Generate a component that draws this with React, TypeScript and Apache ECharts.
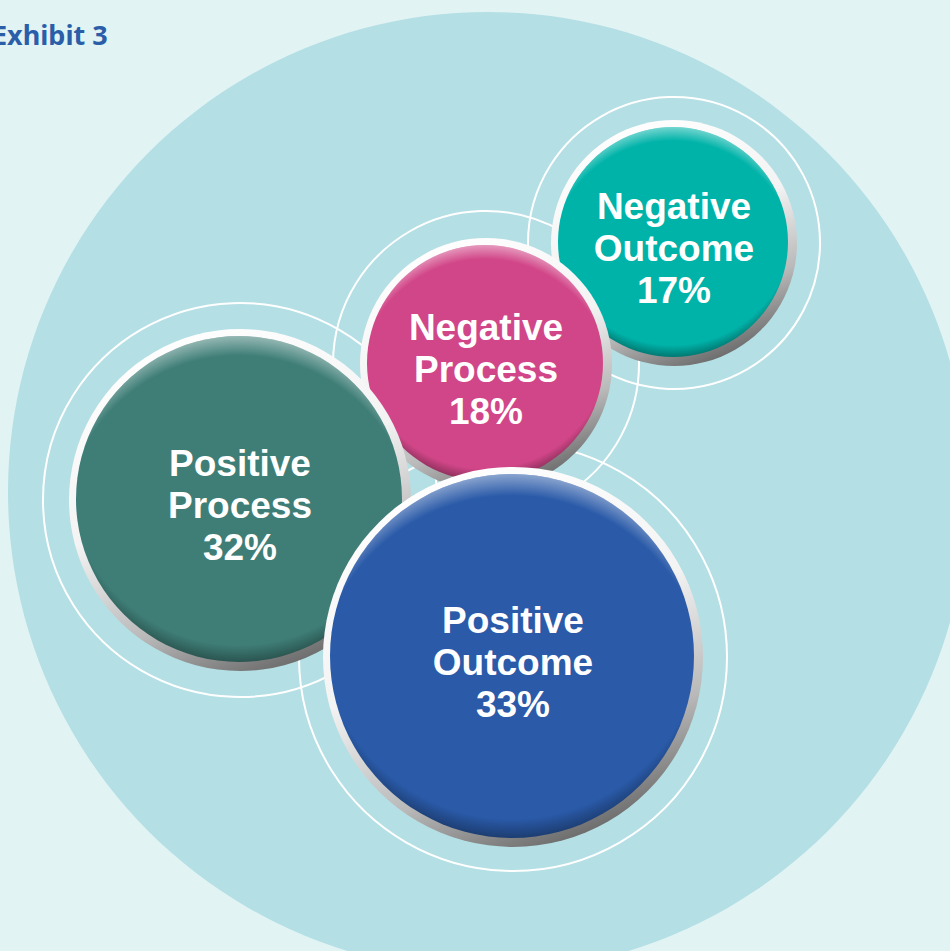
import React, { useEffect, useRef } from "react";
import * as echarts from "echarts";

// ---- data ----
const categories = ["Negative Outcome", "Negative Process", "Positive Process", "Positive Outcome"];
const shares = [17, 18, 32, 33];
const titleText = "Exhibit 3";

// ---- layout (bubble positions / sizes in the hidden axis units) ----
const bubbleX = [674, 486, 240, 513];
const bubbleY = [243, 364, 500, 657];
const bubbleR = [123, 126, 171, 190];
const ringR = [146, 153, 197, 214];
const bubbleColors = ["#00b3a9", "#d14688", "#3f7e77", "#2a5aa8"];

function darken(hex: string, k: number) {
  const n = parseInt(hex.slice(1), 16);
  const r = Math.round(((n >> 16) & 255) * k);
  const g = Math.round(((n >> 8) & 255) * k);
  const b = Math.round((n & 255) * k);
  return `rgb(${r},${g},${b})`;
}

export default function App() {
  const ref = useRef<HTMLDivElement>(null);

  useEffect(() => {
    if (!ref.current) return;
    const chart = echarts.init(ref.current, null, { renderer: "svg" });
    const data = categories.map((c, i) => [bubbleX[i], bubbleY[i], bubbleR[i], ringR[i], shares[i], i]);

    const renderRing = (params: any, api: any) => {
      const c = api.coord([api.value(0), api.value(1)]);
      const r = api.size([api.value(3), 0])[0];
      return {
        type: "circle",
        shape: { cx: c[0], cy: c[1], r },
        style: { fill: "none", stroke: "#ffffff", lineWidth: 2 },
        silent: true,
      };
    };

    const renderBubble = (params: any, api: any) => {
      const i = params.dataIndex;
      const c = api.coord([api.value(0), api.value(1)]);
      const r = api.size([api.value(2), 0])[0];
      const color = bubbleColors[i];
      const dark = darken(color, 0.55);
      const lines = categories[i].split(" ");
      const label = lines.join("\n") + "\n" + shares[i] + "%";
      const ri = r - 8;
      return {
        type: "group",
        children: [
          {
            type: "circle",
            shape: { cx: c[0], cy: c[1], r },
            style: {
              fill: {
                type: "linear",
                x: 0.3,
                y: 0,
                x2: 0.7,
                y2: 1,
                colorStops: [
                  { offset: 0, color: "#ffffff" },
                  { offset: 0.45, color: "#f3f3f3" },
                  { offset: 0.75, color: "#b9b9b9" },
                  { offset: 1, color: "#626262" },
                ],
              },
            },
          },
          {
            type: "circle",
            shape: { cx: c[0] - 1, cy: c[1] - 1, r: ri },
            style: {
              fill: {
                type: "radial",
                x: 0.5,
                y: 0.42,
                r: 0.6,
                colorStops: [
                  { offset: 0, color },
                  { offset: 0.88, color },
                  { offset: 1, color: dark },
                ],
              },
            },
          },
          {
            type: "circle",
            shape: { cx: c[0] - 1, cy: c[1] - 1, r: ri },
            style: {
              fill: {
                type: "radial",
                x: 0.5,
                y: 0.6,
                r: 0.6,
                colorStops: [
                  { offset: 0, color: "rgba(255,255,255,0)" },
                  { offset: 0.9, color: "rgba(255,255,255,0)" },
                  { offset: 1, color: "rgba(255,255,255,0.45)" },
                ],
              },
            },
          },
          {
            type: "text",
            x: c[0],
            y: c[1] + 5,
            style: {
              text: label,
              fill: "#ffffff",
              fontSize: 37,
              fontWeight: "bold",
              fontFamily: "Liberation Sans",
              align: "center",
              verticalAlign: "middle",
              textAlign: "center",
              textVerticalAlign: "middle",
              lineHeight: 42,
            },
          },
        ],
      };
    };

    chart.setOption({
      animation: false,
      backgroundColor: "#e1f3f3",
      title: {
        text: titleText,
        left: -13,
        top: 16,
        textStyle: { color: "#2b5ea9", fontFamily: "Noto Sans", fontWeight: "bold", fontSize: 27 },
      },
      grid: { left: 0, right: 0, top: 0, bottom: 0 },
      xAxis: { type: "value", min: 0, max: 950, show: false },
      yAxis: { type: "value", min: 0, max: 951, inverse: true, show: false },
      graphic: [
        {
          type: "circle",
          shape: { cx: 488, cy: 492, r: 480 },
          style: { fill: "#b4dfe5" },
          z: -10,
          silent: true,
        },
      ],
      series: [
        {
          type: "custom",
          coordinateSystem: "cartesian2d",
          z: 5,
          silent: true,
          clip: false,
          data,
          encode: { x: 0, y: 1 },
          renderItem: renderRing,
        },
        {
          type: "custom",
          coordinateSystem: "cartesian2d",
          z: 6,
          silent: true,
          clip: false,
          data,
          encode: { x: 0, y: 1 },
          renderItem: renderBubble,
        },
      ],
    });
    return () => chart.dispose();
  }, []);

  return <div ref={ref} style={{ position: "fixed", left: 0, top: 0, width: 950, height: 951 }} />;
}
